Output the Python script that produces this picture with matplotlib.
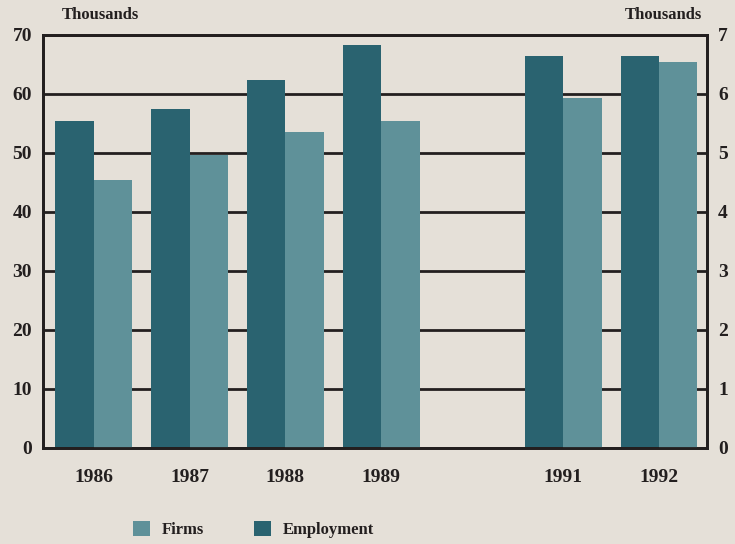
import matplotlib.pyplot as plt
import numpy as np

years = ["1986", "1987", "1988", "1989", "1991", "1992"]
employment = [55.4, 57.5, 62.4, 68.3, 66.4, 66.4]   # left axis, thousands
firms = [4.54, 4.97, 5.36, 5.54, 5.94, 6.54]         # right axis, thousands

left_ticks = [0, 10, 20, 30, 40, 50, 60, 70]
right_ticks = [0, 1, 2, 3, 4, 5, 6, 7]

bg = "#e5e0d8"
c_emp = "#2a6370"
c_firm = "#5f9199"
dark = "#231f1f"

plt.rcParams['font.family'] = ['Liberation Serif', 'DejaVu Serif']
plt.rcParams['font.weight'] = 'bold'

fig = plt.figure(figsize=(7.35, 5.44), dpi=100)
fig.patch.set_facecolor(bg)
ax = fig.add_axes([0.0585, 0.1765, 0.9035, 0.7592])
ax.set_facecolor(bg)

# category positions with a gap for the missing 1990
pos = np.arange(len(years), dtype=float)
pos[4:] += 0.9
w = 0.4

ax.set_axisbelow(True)
ax.yaxis.grid(True, color=dark, linewidth=2.0)
ax.bar(pos - w / 2, employment, width=w, color=c_emp, zorder=2, label="Employment")
ax.set_ylim(0, 70)
ax.set_yticks(left_ticks)
ax.set_xlim(-0.53, pos[-1] + 0.5)
ax.set_xticks(pos)
ax.set_xticklabels(years)

ax2 = ax.twinx()
ax2.bar(pos + w / 2, firms, width=w, color=c_firm, zorder=2, label="Firms")
ax2.set_ylim(0, 7)
ax2.set_yticks(right_ticks)

for a in (ax, ax2):
    for s in a.spines.values():
        s.set_linewidth(2.0)
        s.set_color(dark)
    a.tick_params(length=0, labelsize=14, colors=dark)
ax.tick_params(axis='x', pad=15)
ax.tick_params(axis='y', pad=8)
ax2.tick_params(axis='y', pad=8)

fig.text(0.084, 0.972, "Thousands", fontsize=12, fontweight='bold', color=dark, va='center')
fig.text(0.955, 0.972, "Thousands", fontsize=12, fontweight='bold', color=dark, va='center', ha='right')

h1, l1 = ax.get_legend_handles_labels()
h2, l2 = ax2.get_legend_handles_labels()
leg = fig.legend(h2 + h1, l2 + l1, loc='center', bbox_to_anchor=(0.345, 0.027), ncol=2,
                 frameon=False, fontsize=12, handlelength=1.0, handleheight=1.0,
                 columnspacing=3.0, handletextpad=0.7)
for t in leg.get_texts():
    t.set_color(dark)

fig.savefig("out.png", dpi=100, facecolor=bg)
